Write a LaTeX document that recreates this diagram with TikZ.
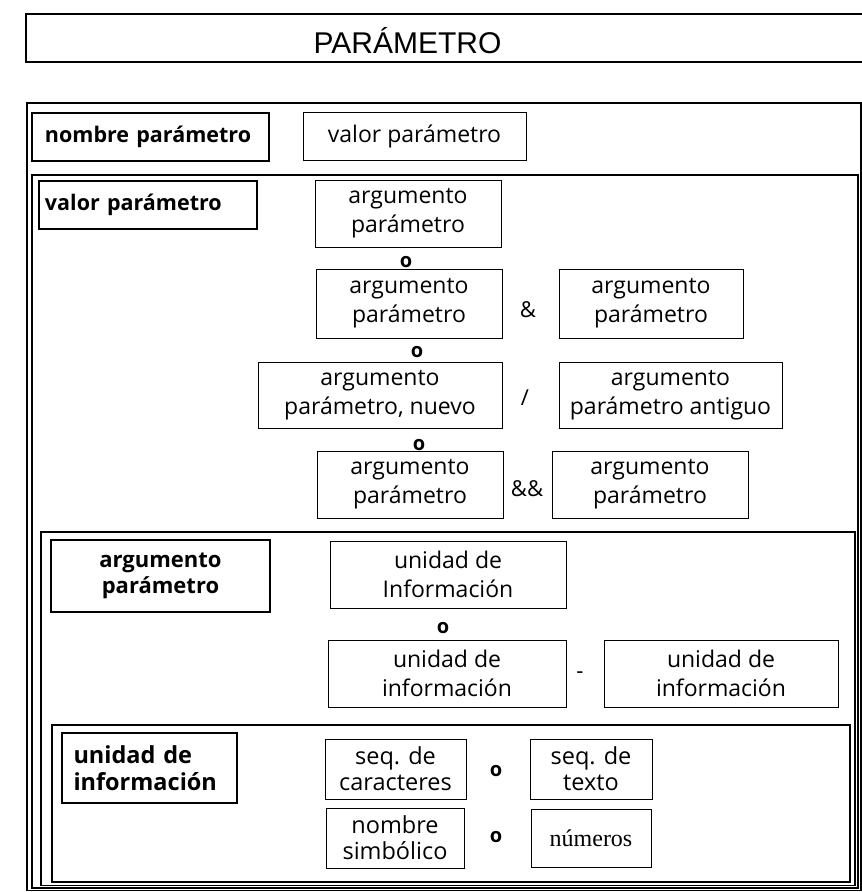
\documentclass[tikz,border=0pt]{standalone}
\usepackage{fontspec}
\setmainfont{Open Sans}
\newfontfamily\titlefont{Liberation Sans}
\newfontfamily\numfont{Liberation Serif}

\begin{document}
\begin{tikzpicture}[x=1pt,y=-1pt,
  frame/.style={draw, line width=1.2pt},
  lblbox/.style={draw, line width=1.3pt, inner sep=0pt,
    font=\fontsize{21.5}{26}\selectfont\bfseries},
  argbox/.style={draw, line width=0.9pt, inner sep=0pt, align=center,
    font=\fontsize{23}{29}\selectfont},
  smallbox/.style={argbox, font=\fontsize{23.5}{26}\selectfont},
  opsym/.style={inner sep=0pt, font=\fontsize{22}{26}\selectfont},
  orsym/.style={inner sep=0pt, font=\fontsize{20}{24}\selectfont\bfseries}]

\useasboundingbox (0,0) rectangle (862,892);

% heading bar
\draw[line width=1.3pt] (26,14) rectangle (866,62);
\node[anchor=base, inner sep=0pt, font=\titlefont\fontsize{30}{33}\selectfont]
  (title) at (407.5,53) {PARÁMETRO};

% nested frames
\draw[frame] (27,103) rectangle (861,890.5);
\draw[frame] (32,175) rectangle (858,888);
\draw[frame] (41,532) rectangle (855,885.5);
\draw[frame] (52,725) rectangle (850,882);

% parámetro
\node[lblbox, minimum height=48pt, text width=211pt, inner xsep=13pt, align=left]
  (nom) at (150.5,137) {nombre parámetro};
\node[argbox, minimum width=223pt, minimum height=48pt] (valtop) at (414.5,136)
  {valor parámetro};

% valor parámetro
\node[lblbox, minimum height=48pt, text width=206pt, inner xsep=6pt, align=left]
  (valbold) at (148,205) {valor parámetro};

\node[argbox, minimum width=186pt, minimum height=67pt] (a1) at (408,213.5)
  {argumento\\parámetro};
\node[orsym] (o1) at (406,262) {o};

\node[argbox, minimum width=186pt, minimum height=69pt] (a2l) at (409,303.5)
  {argumento\\parámetro};
\node[opsym] (amp) at (528,310) {\&};
\node[argbox, minimum width=184pt, minimum height=69pt] (a2r) at (651,303.5)
  {argumento\\parámetro};
\node[orsym] (o2) at (417,352) {o};

\node[argbox, minimum width=244pt, minimum height=66pt] (a3l) at (380,395)
  {argumento\\parámetro, nuevo};
\node[opsym] (slash) at (525,398) {/};
\node[argbox, minimum width=223pt, minimum height=66pt] (a3r) at (670.5,395)
  {argumento\\parámetro antiguo};
\node[orsym] (o3) at (419,445) {o};

\node[argbox, minimum width=186pt, minimum height=67pt] (a4l) at (410,484.5)
  {argumento\\parámetro};
\node[opsym] (dblamp) at (527,489) {\&\&};
\node[argbox, minimum width=196pt, minimum height=67pt] (a4r) at (650,484.5)
  {argumento\\parámetro};

% argumento parámetro
\node[lblbox, minimum width=219pt, minimum height=72pt, align=center,
  font=\fontsize{22}{26}\selectfont\bfseries]
  (argbold) at (160.5,576) {argumento\\parámetro};

\node[argbox, minimum width=236pt, minimum height=67pt] (u1) at (448,574.5)
  {unidad de\\Información};
\node[orsym] (o4) at (443,628) {o};
\node[argbox, minimum width=238pt, minimum height=67pt] (u2) at (447,673.5)
  {unidad de\\información};
\node[opsym] (dash) at (580,675) {-};
\node[argbox, minimum width=234pt, minimum height=67pt] (u3) at (721,673.5)
  {unidad de\\información};

% unidad de información
\node[lblbox, minimum height=70pt, text width=152pt, inner xsep=11.5pt, align=left,
  font=\fontsize{23.5}{27}\selectfont\bfseries]
  (unibold) at (149.5,768) {unidad de\\información};

\node[smallbox, minimum width=141pt, minimum height=60pt] (s1) at (395.5,769)
  {seq. de\\caracteres};
\node[orsym] (o5) at (496,771) {o};
\node[smallbox, minimum width=122pt, minimum height=60pt] (s2) at (591,769)
  {seq. de\\texto};
\node[smallbox, minimum width=138pt, minimum height=60pt] (s3) at (395,838)
  {nombre\\simbólico};
\node[orsym] (o6) at (496,837) {o};
\node[smallbox, minimum width=120pt, minimum height=58pt,
  font=\numfont\fontsize{24}{28}\selectfont] (s4) at (591,838) {números};

\end{tikzpicture}
\end{document}
